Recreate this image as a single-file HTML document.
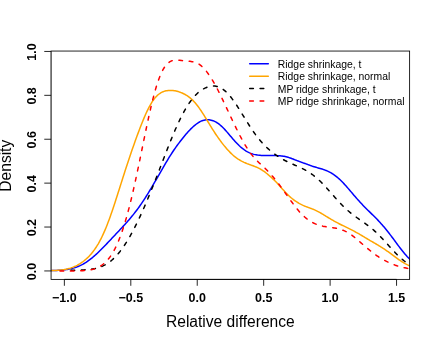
<!DOCTYPE html>
<html><head><meta charset="utf-8"><title>Density plot</title>
<style>html,body{margin:0;padding:0;background:#fff}svg{display:block;will-change:transform}text{font-family:"Liberation Sans",sans-serif}</style></head>
<body>
<svg width="436" height="343" viewBox="0 0 436 343">
<rect width="436" height="343" fill="#fff"/>
<defs><clipPath id="c"><rect x="51.07" y="51.05" width="358.55" height="228.33999999999997"/></clipPath></defs>
<g clip-path="url(#c)" fill="none" stroke-width="1.5" stroke-linejoin="round" stroke-linecap="round">
<path d="M50.1,270.67 L51.1,270.65 L52.1,270.62 L53.1,270.59 L54.1,270.56 L55.1,270.52 L56.1,270.48 L57.1,270.43 L58.1,270.37 L59.1,270.31 L60.1,270.24 L61.1,270.16 L62.1,270.07 L63.1,269.97 L64.1,269.85 L65.1,269.73 L66.1,269.59 L67.1,269.44 L68.1,269.27 L69.1,269.08 L70.1,268.88 L71.1,268.65 L72.1,268.41 L73.1,268.14 L74.1,267.86 L75.1,267.54 L76.1,267.21 L77.1,266.84 L78.1,266.45 L79.1,266.03 L80.1,265.59 L81.1,265.11 L82.1,264.61 L83.1,264.07 L84.1,263.50 L85.1,262.91 L86.1,262.28 L87.1,261.62 L88.1,260.93 L89.1,260.21 L90.1,259.46 L91.1,258.68 L92.1,257.88 L93.1,257.04 L94.1,256.18 L95.1,255.30 L96.1,254.40 L97.1,253.47 L98.1,252.52 L99.1,251.56 L100.1,250.57 L101.1,249.58 L102.1,248.57 L103.1,247.55 L104.1,246.52 L105.1,245.48 L106.1,244.43 L107.1,243.38 L108.1,242.33 L109.1,241.27 L110.1,240.21 L111.1,239.15 L112.1,238.09 L113.1,237.03 L114.1,235.97 L115.1,234.91 L116.1,233.85 L117.1,232.79 L118.1,231.73 L119.1,230.67 L120.1,229.60 L121.1,228.53 L122.1,227.46 L123.1,226.38 L124.1,225.29 L125.1,224.19 L126.1,223.08 L127.1,221.96 L128.1,220.82 L129.1,219.67 L130.1,218.50 L131.1,217.31 L132.1,216.10 L133.1,214.86 L134.1,213.61 L135.1,212.33 L136.1,211.02 L137.1,209.69 L138.1,208.33 L139.1,206.94 L140.1,205.53 L141.1,204.09 L142.1,202.62 L143.1,201.13 L144.1,199.61 L145.1,198.06 L146.1,196.49 L147.1,194.90 L148.1,193.28 L149.1,191.64 L150.1,189.99 L151.1,188.32 L152.1,186.63 L153.1,184.93 L154.1,183.21 L155.1,181.49 L156.1,179.76 L157.1,178.02 L158.1,176.28 L159.1,174.54 L160.1,172.80 L161.1,171.06 L162.1,169.32 L163.1,167.59 L164.1,165.87 L165.1,164.16 L166.1,162.46 L167.1,160.78 L168.1,159.12 L169.1,157.48 L170.1,155.87 L171.1,154.29 L172.1,152.75 L173.1,151.25 L174.1,149.77 L175.1,148.33 L176.1,146.92 L177.1,145.53 L178.1,144.17 L179.1,142.83 L180.1,141.51 L181.1,140.22 L182.1,138.94 L183.1,137.69 L184.1,136.45 L185.1,135.25 L186.1,134.06 L187.1,132.91 L188.1,131.79 L189.1,130.71 L190.1,129.66 L191.1,128.65 L192.1,127.69 L193.1,126.76 L194.1,125.88 L195.1,125.04 L196.1,124.25 L197.1,123.51 L198.1,122.84 L199.1,122.22 L200.1,121.67 L201.1,121.18 L202.1,120.77 L203.1,120.42 L204.1,120.15 L205.1,119.95 L206.1,119.82 L207.1,119.76 L208.1,119.76 L209.1,119.83 L210.1,119.97 L211.1,120.17 L212.1,120.43 L213.1,120.75 L214.1,121.15 L215.1,121.61 L216.1,122.15 L217.1,122.76 L218.1,123.45 L219.1,124.20 L220.1,125.02 L221.1,125.89 L222.1,126.82 L223.1,127.80 L224.1,128.82 L225.1,129.88 L226.1,130.98 L227.1,132.12 L228.1,133.28 L229.1,134.46 L230.1,135.65 L231.1,136.85 L232.1,138.04 L233.1,139.21 L234.1,140.36 L235.1,141.47 L236.1,142.55 L237.1,143.59 L238.1,144.59 L239.1,145.56 L240.1,146.48 L241.1,147.35 L242.1,148.18 L243.1,148.97 L244.1,149.70 L245.1,150.39 L246.1,151.03 L247.1,151.61 L248.1,152.15 L249.1,152.64 L250.1,153.08 L251.1,153.47 L252.1,153.82 L253.1,154.12 L254.1,154.39 L255.1,154.62 L256.1,154.81 L257.1,154.98 L258.1,155.13 L259.1,155.25 L260.1,155.35 L261.1,155.43 L262.1,155.50 L263.1,155.55 L264.1,155.58 L265.1,155.60 L266.1,155.60 L267.1,155.60 L268.1,155.60 L269.1,155.59 L270.1,155.58 L271.1,155.57 L272.1,155.57 L273.1,155.57 L274.1,155.58 L275.1,155.60 L276.1,155.62 L277.1,155.64 L278.1,155.68 L279.1,155.73 L280.1,155.80 L281.1,155.89 L282.1,156.00 L283.1,156.15 L284.1,156.32 L285.1,156.53 L286.1,156.77 L287.1,157.03 L288.1,157.33 L289.1,157.64 L290.1,157.97 L291.1,158.32 L292.1,158.68 L293.1,159.06 L294.1,159.44 L295.1,159.83 L296.1,160.22 L297.1,160.62 L298.1,161.01 L299.1,161.39 L300.1,161.76 L301.1,162.13 L302.1,162.49 L303.1,162.84 L304.1,163.20 L305.1,163.55 L306.1,163.92 L307.1,164.28 L308.1,164.66 L309.1,165.03 L310.1,165.39 L311.1,165.75 L312.1,166.10 L313.1,166.43 L314.1,166.74 L315.1,167.05 L316.1,167.34 L317.1,167.62 L318.1,167.91 L319.1,168.19 L320.1,168.48 L321.1,168.77 L322.1,169.08 L323.1,169.41 L324.1,169.75 L325.1,170.11 L326.1,170.50 L327.1,170.92 L328.1,171.37 L329.1,171.85 L330.1,172.37 L331.1,172.93 L332.1,173.52 L333.1,174.16 L334.1,174.84 L335.1,175.56 L336.1,176.32 L337.1,177.13 L338.1,177.98 L339.1,178.87 L340.1,179.80 L341.1,180.77 L342.1,181.78 L343.1,182.81 L344.1,183.88 L345.1,184.97 L346.1,186.09 L347.1,187.22 L348.1,188.38 L349.1,189.54 L350.1,190.71 L351.1,191.89 L352.1,193.07 L353.1,194.25 L354.1,195.42 L355.1,196.58 L356.1,197.74 L357.1,198.88 L358.1,200.01 L359.1,201.12 L360.1,202.22 L361.1,203.29 L362.1,204.36 L363.1,205.40 L364.1,206.44 L365.1,207.45 L366.1,208.46 L367.1,209.45 L368.1,210.43 L369.1,211.41 L370.1,212.39 L371.1,213.36 L372.1,214.34 L373.1,215.32 L374.1,216.31 L375.1,217.31 L376.1,218.32 L377.1,219.34 L378.1,220.39 L379.1,221.45 L380.1,222.54 L381.1,223.64 L382.1,224.77 L383.1,225.93 L384.1,227.10 L385.1,228.30 L386.1,229.52 L387.1,230.76 L388.1,232.02 L389.1,233.30 L390.1,234.60 L391.1,235.90 L392.1,237.23 L393.1,238.56 L394.1,239.90 L395.1,241.25 L396.1,242.61 L397.1,243.96 L398.1,245.32 L399.1,246.66 L400.1,247.98 L401.1,249.29 L402.1,250.56 L403.1,251.81 L404.1,253.02 L405.1,254.19 L406.1,255.32 L407.1,256.42 L408.1,257.47 L409.1,258.48 L410.1,259.45" stroke="#0000ff"/>
<path d="M50.1,270.51 L51.1,270.51 L52.1,270.50 L53.1,270.49 L54.1,270.46 L55.1,270.43 L56.1,270.39 L57.1,270.33 L58.1,270.27 L59.1,270.19 L60.1,270.10 L61.1,269.99 L62.1,269.87 L63.1,269.73 L64.1,269.58 L65.1,269.40 L66.1,269.21 L67.1,268.99 L68.1,268.75 L69.1,268.48 L70.1,268.19 L71.1,267.87 L72.1,267.52 L73.1,267.14 L74.1,266.73 L75.1,266.29 L76.1,265.82 L77.1,265.31 L78.1,264.77 L79.1,264.19 L80.1,263.58 L81.1,262.93 L82.1,262.24 L83.1,261.51 L84.1,260.73 L85.1,259.91 L86.1,259.05 L87.1,258.14 L88.1,257.17 L89.1,256.16 L90.1,255.08 L91.1,253.95 L92.1,252.76 L93.1,251.49 L94.1,250.16 L95.1,248.75 L96.1,247.26 L97.1,245.69 L98.1,244.04 L99.1,242.29 L100.1,240.46 L101.1,238.53 L102.1,236.50 L103.1,234.38 L104.1,232.16 L105.1,229.85 L106.1,227.44 L107.1,224.94 L108.1,222.35 L109.1,219.68 L110.1,216.92 L111.1,214.09 L112.1,211.20 L113.1,208.24 L114.1,205.24 L115.1,202.18 L116.1,199.09 L117.1,195.97 L118.1,192.83 L119.1,189.68 L120.1,186.52 L121.1,183.36 L122.1,180.20 L123.1,177.06 L124.1,173.93 L125.1,170.83 L126.1,167.74 L127.1,164.69 L128.1,161.66 L129.1,158.66 L130.1,155.69 L131.1,152.76 L132.1,149.85 L133.1,146.98 L134.1,144.14 L135.1,141.33 L136.1,138.56 L137.1,135.82 L138.1,133.12 L139.1,130.46 L140.1,127.85 L141.1,125.28 L142.1,122.76 L143.1,120.30 L144.1,117.90 L145.1,115.57 L146.1,113.32 L147.1,111.16 L148.1,109.09 L149.1,107.13 L150.1,105.28 L151.1,103.54 L152.1,101.93 L153.1,100.44 L154.1,99.07 L155.1,97.82 L156.1,96.69 L157.1,95.68 L158.1,94.78 L159.1,93.99 L160.1,93.29 L161.1,92.69 L162.1,92.17 L163.1,91.73 L164.1,91.37 L165.1,91.07 L166.1,90.83 L167.1,90.64 L168.1,90.51 L169.1,90.42 L170.1,90.38 L171.1,90.38 L172.1,90.42 L173.1,90.51 L174.1,90.64 L175.1,90.81 L176.1,91.01 L177.1,91.26 L178.1,91.54 L179.1,91.86 L180.1,92.21 L181.1,92.59 L182.1,93.01 L183.1,93.47 L184.1,93.96 L185.1,94.49 L186.1,95.07 L187.1,95.69 L188.1,96.37 L189.1,97.10 L190.1,97.88 L191.1,98.73 L192.1,99.64 L193.1,100.62 L194.1,101.67 L195.1,102.78 L196.1,103.97 L197.1,105.21 L198.1,106.52 L199.1,107.89 L200.1,109.31 L201.1,110.78 L202.1,112.30 L203.1,113.85 L204.1,115.44 L205.1,117.06 L206.1,118.70 L207.1,120.35 L208.1,122.01 L209.1,123.67 L210.1,125.32 L211.1,126.95 L212.1,128.57 L213.1,130.15 L214.1,131.71 L215.1,133.24 L216.1,134.74 L217.1,136.20 L218.1,137.64 L219.1,139.04 L220.1,140.42 L221.1,141.77 L222.1,143.09 L223.1,144.37 L224.1,145.62 L225.1,146.84 L226.1,148.02 L227.1,149.16 L228.1,150.27 L229.1,151.34 L230.1,152.37 L231.1,153.36 L232.1,154.31 L233.1,155.21 L234.1,156.06 L235.1,156.87 L236.1,157.63 L237.1,158.34 L238.1,159.01 L239.1,159.64 L240.1,160.24 L241.1,160.81 L242.1,161.35 L243.1,161.86 L244.1,162.35 L245.1,162.80 L246.1,163.23 L247.1,163.64 L248.1,164.02 L249.1,164.39 L250.1,164.74 L251.1,165.09 L252.1,165.44 L253.1,165.81 L254.1,166.18 L255.1,166.58 L256.1,166.99 L257.1,167.43 L258.1,167.91 L259.1,168.41 L260.1,168.95 L261.1,169.52 L262.1,170.13 L263.1,170.79 L264.1,171.48 L265.1,172.21 L266.1,172.98 L267.1,173.78 L268.1,174.61 L269.1,175.47 L270.1,176.35 L271.1,177.25 L272.1,178.17 L273.1,179.11 L274.1,180.07 L275.1,181.05 L276.1,182.06 L277.1,183.10 L278.1,184.17 L279.1,185.26 L280.1,186.38 L281.1,187.50 L282.1,188.63 L283.1,189.75 L284.1,190.86 L285.1,191.94 L286.1,193.00 L287.1,194.02 L288.1,195.00 L289.1,195.94 L290.1,196.85 L291.1,197.71 L292.1,198.53 L293.1,199.31 L294.1,200.06 L295.1,200.78 L296.1,201.47 L297.1,202.12 L298.1,202.74 L299.1,203.33 L300.1,203.89 L301.1,204.42 L302.1,204.92 L303.1,205.39 L304.1,205.83 L305.1,206.25 L306.1,206.64 L307.1,207.01 L308.1,207.37 L309.1,207.73 L310.1,208.09 L311.1,208.46 L312.1,208.85 L313.1,209.26 L314.1,209.68 L315.1,210.13 L316.1,210.60 L317.1,211.10 L318.1,211.61 L319.1,212.15 L320.1,212.70 L321.1,213.27 L322.1,213.85 L323.1,214.44 L324.1,215.05 L325.1,215.66 L326.1,216.27 L327.1,216.88 L328.1,217.50 L329.1,218.11 L330.1,218.71 L331.1,219.31 L332.1,219.89 L333.1,220.47 L334.1,221.04 L335.1,221.59 L336.1,222.14 L337.1,222.67 L338.1,223.20 L339.1,223.71 L340.1,224.22 L341.1,224.72 L342.1,225.21 L343.1,225.70 L344.1,226.19 L345.1,226.67 L346.1,227.16 L347.1,227.65 L348.1,228.14 L349.1,228.63 L350.1,229.13 L351.1,229.64 L352.1,230.16 L353.1,230.68 L354.1,231.21 L355.1,231.74 L356.1,232.29 L357.1,232.84 L358.1,233.40 L359.1,233.97 L360.1,234.55 L361.1,235.14 L362.1,235.73 L363.1,236.32 L364.1,236.93 L365.1,237.53 L366.1,238.14 L367.1,238.74 L368.1,239.34 L369.1,239.94 L370.1,240.53 L371.1,241.11 L372.1,241.68 L373.1,242.25 L374.1,242.83 L375.1,243.41 L376.1,243.99 L377.1,244.58 L378.1,245.18 L379.1,245.80 L380.1,246.41 L381.1,247.04 L382.1,247.68 L383.1,248.32 L384.1,248.98 L385.1,249.64 L386.1,250.32 L387.1,251.01 L388.1,251.71 L389.1,252.43 L390.1,253.16 L391.1,253.90 L392.1,254.65 L393.1,255.41 L394.1,256.17 L395.1,256.92 L396.1,257.66 L397.1,258.39 L398.1,259.10 L399.1,259.80 L400.1,260.48 L401.1,261.15 L402.1,261.79 L403.1,262.41 L404.1,263.02 L405.1,263.59 L406.1,264.13 L407.1,264.63 L408.1,265.09 L409.1,265.51 L410.1,265.89" stroke="#ffa500"/>
<path d="M71.0,270.33 L72.0,270.32 L73.0,270.31 L74.0,270.29 L75.0,270.27 L76.0,270.25 L77.0,270.22 L78.0,270.19 L79.0,270.15 L80.0,270.11 L81.0,270.07 L82.0,270.02 L83.0,269.96 L84.0,269.89 L85.0,269.82 L86.0,269.73 L87.0,269.64 L88.0,269.54 L89.0,269.42 L90.0,269.30 L91.0,269.17 L92.0,269.03 L93.0,268.88 L94.0,268.71 L95.0,268.53 L96.0,268.32 L97.0,268.08 L98.0,267.82 L99.0,267.52 L100.0,267.18 L101.0,266.81 L102.0,266.39 L103.0,265.94 L104.0,265.45 L105.0,264.92 L106.0,264.35 L107.0,263.74 L108.0,263.09 L109.0,262.39 L110.0,261.65 L111.0,260.86 L112.0,260.02 L113.0,259.13 L114.0,258.19 L115.0,257.21 L116.0,256.17 L117.0,255.08 L118.0,253.94 L119.0,252.74 L120.0,251.50 L121.0,250.20 L122.0,248.85 L123.0,247.45 L124.0,246.00 L125.0,244.50 L126.0,242.95 L127.0,241.35 L128.0,239.70 L129.0,238.01 L130.0,236.27 L131.0,234.48 L132.0,232.65 L133.0,230.78 L134.0,228.87 L135.0,226.91 L136.0,224.92 L137.0,222.89 L138.0,220.82 L139.0,218.71 L140.0,216.57 L141.0,214.40 L142.0,212.19 L143.0,209.95 L144.0,207.68 L145.0,205.38 L146.0,203.05 L147.0,200.69 L148.0,198.31 L149.0,195.90 L150.0,193.46 L151.0,191.01 L152.0,188.53 L153.0,186.02 L154.0,183.50 L155.0,180.96 L156.0,178.41 L157.0,175.84 L158.0,173.26 L159.0,170.67 L160.0,168.07 L161.0,165.47 L162.0,162.87 L163.0,160.27 L164.0,157.67 L165.0,155.08 L166.0,152.50 L167.0,149.93 L168.0,147.38 L169.0,144.85 L170.0,142.35 L171.0,139.87 L172.0,137.43 L173.0,135.02 L174.0,132.65 L175.0,130.32 L176.0,128.04 L177.0,125.80 L178.0,123.61 L179.0,121.48 L180.0,119.40 L181.0,117.38 L182.0,115.42 L183.0,113.52 L184.0,111.68 L185.0,109.91 L186.0,108.20 L187.0,106.55 L188.0,104.97 L189.0,103.46 L190.0,102.01 L191.0,100.63 L192.0,99.31 L193.0,98.06 L194.0,96.87 L195.0,95.74 L196.0,94.68 L197.0,93.68 L198.0,92.75 L199.0,91.89 L200.0,91.09 L201.0,90.37 L202.0,89.71 L203.0,89.12 L204.0,88.58 L205.0,88.11 L206.0,87.68 L207.0,87.30 L208.0,86.97 L209.0,86.68 L210.0,86.43 L211.0,86.25 L212.0,86.11 L213.0,86.04 L214.0,86.04 L215.0,86.10 L216.0,86.24 L217.0,86.44 L218.0,86.73 L219.0,87.09 L220.0,87.52 L221.0,88.04 L222.0,88.64 L223.0,89.31 L224.0,90.06 L225.0,90.89 L226.0,91.79 L227.0,92.76 L228.0,93.80 L229.0,94.91 L230.0,96.08 L231.0,97.31 L232.0,98.60 L233.0,99.94 L234.0,101.34 L235.0,102.78 L236.0,104.26 L237.0,105.77 L238.0,107.32 L239.0,108.90 L240.0,110.49 L241.0,112.11 L242.0,113.73 L243.0,115.36 L244.0,116.99 L245.0,118.62 L246.0,120.24 L247.0,121.85 L248.0,123.44 L249.0,125.01 L250.0,126.56 L251.0,128.09 L252.0,129.58 L253.0,131.05 L254.0,132.48 L255.0,133.87 L256.0,135.23 L257.0,136.55 L258.0,137.84 L259.0,139.09 L260.0,140.29 L261.0,141.47 L262.0,142.60 L263.0,143.69 L264.0,144.76 L265.0,145.78 L266.0,146.77 L267.0,147.73 L268.0,148.66 L269.0,149.55 L270.0,150.42 L271.0,151.25 L272.0,152.06 L273.0,152.85 L274.0,153.60 L275.0,154.34 L276.0,155.05 L277.0,155.73 L278.0,156.40 L279.0,157.04 L280.0,157.67 L281.0,158.27 L282.0,158.85 L283.0,159.42 L284.0,159.97 L285.0,160.51 L286.0,161.02 L287.0,161.53 L288.0,162.02 L289.0,162.50 L290.0,162.96 L291.0,163.42 L292.0,163.87 L293.0,164.31 L294.0,164.75 L295.0,165.19 L296.0,165.63 L297.0,166.06 L298.0,166.51 L299.0,166.95 L300.0,167.41 L301.0,167.87 L302.0,168.35 L303.0,168.84 L304.0,169.36 L305.0,169.88 L306.0,170.44 L307.0,171.01 L308.0,171.61 L309.0,172.23 L310.0,172.88 L311.0,173.57 L312.0,174.28 L313.0,175.02 L314.0,175.79 L315.0,176.60 L316.0,177.43 L317.0,178.30 L318.0,179.19 L319.0,180.12 L320.0,181.07 L321.0,182.05 L322.0,183.06 L323.0,184.09 L324.0,185.14 L325.0,186.21 L326.0,187.30 L327.0,188.40 L328.0,189.52 L329.0,190.64 L330.0,191.78 L331.0,192.91 L332.0,194.05 L333.0,195.19 L334.0,196.33 L335.0,197.46 L336.0,198.58 L337.0,199.69 L338.0,200.79 L339.0,201.87 L340.0,202.93 L341.0,203.98 L342.0,205.01 L343.0,206.01 L344.0,206.99 L345.0,207.95 L346.0,208.89 L347.0,209.80 L348.0,210.69 L349.0,211.55 L350.0,212.40 L351.0,213.21 L352.0,214.01 L353.0,214.79 L354.0,215.55 L355.0,216.29 L356.0,217.02 L357.0,217.74 L358.0,218.45 L359.0,219.15 L360.0,219.84 L361.0,220.53 L362.0,221.22 L363.0,221.92 L364.0,222.62 L365.0,223.32 L366.0,224.04 L367.0,224.78 L368.0,225.52 L369.0,226.29 L370.0,227.07 L371.0,227.88 L372.0,228.70 L373.0,229.55 L374.0,230.43 L375.0,231.32 L376.0,232.25 L377.0,233.19 L378.0,234.16 L379.0,235.16 L380.0,236.17 L381.0,237.21 L382.0,238.26 L383.0,239.33 L384.0,240.42 L385.0,241.52 L386.0,242.62 L387.0,243.73 L388.0,244.85 L389.0,245.96 L390.0,247.08 L391.0,248.18 L392.0,249.28 L393.0,250.36 L394.0,251.43 L395.0,252.48 L396.0,253.52 L397.0,254.52 L398.0,255.50 L399.0,256.46 L400.0,257.38 L401.0,258.27 L402.0,259.13 L403.0,259.96 L404.0,260.75 L405.0,261.50 L406.0,262.22 L407.0,262.90 L408.0,263.54 L409.0,264.15 L410.0,264.72" stroke="#000" stroke-dasharray="3.71 6.71" stroke-dashoffset="0"/>
<path d="M60.0,271.10 L61.0,271.10 L62.0,271.09 L63.0,271.08 L64.0,271.07 L65.0,271.06 L66.0,271.05 L67.0,271.04 L68.0,271.03 L69.0,271.01 L70.0,271.00 L71.0,270.99 L72.0,270.97 L73.0,270.96 L74.0,270.94 L75.0,270.92 L76.0,270.90 L77.0,270.88 L78.0,270.85 L79.0,270.82 L80.0,270.79 L81.0,270.74 L82.0,270.70 L83.0,270.64 L84.0,270.58 L85.0,270.50 L86.0,270.42 L87.0,270.31 L88.0,270.20 L89.0,270.06 L90.0,269.90 L91.0,269.71 L92.0,269.49 L93.0,269.24 L94.0,268.95 L95.0,268.62 L96.0,268.24 L97.0,267.82 L98.0,267.36 L99.0,266.85 L100.0,266.28 L101.0,265.67 L102.0,265.00 L103.0,264.27 L104.0,263.47 L105.0,262.59 L106.0,261.64 L107.0,260.60 L108.0,259.48 L109.0,258.26 L110.0,256.93 L111.0,255.51 L112.0,253.97 L113.0,252.32 L114.0,250.55 L115.0,248.66 L116.0,246.65 L117.0,244.50 L118.0,242.23 L119.0,239.82 L120.0,237.28 L121.0,234.59 L122.0,231.77 L123.0,228.81 L124.0,225.70 L125.0,222.45 L126.0,219.07 L127.0,215.54 L128.0,211.88 L129.0,208.08 L130.0,204.15 L131.0,200.09 L132.0,195.91 L133.0,191.62 L134.0,187.21 L135.0,182.71 L136.0,178.11 L137.0,173.43 L138.0,168.69 L139.0,163.88 L140.0,159.02 L141.0,154.14 L142.0,149.23 L143.0,144.32 L144.0,139.43 L145.0,134.56 L146.0,129.74 L147.0,124.98 L148.0,120.30 L149.0,115.71 L150.0,111.24 L151.0,106.90 L152.0,102.70 L153.0,98.67 L154.0,94.81 L155.0,91.14 L156.0,87.69 L157.0,84.45 L158.0,81.43 L159.0,78.65 L160.0,76.09 L161.0,73.75 L162.0,71.62 L163.0,69.71 L164.0,68.00 L165.0,66.50 L166.0,65.20 L167.0,64.08 L168.0,63.13 L169.0,62.34 L170.0,61.68 L171.0,61.15 L172.0,60.73 L173.0,60.42 L174.0,60.21 L175.0,60.08 L176.0,60.03 L177.0,60.04 L178.0,60.10 L179.0,60.19 L180.0,60.31 L181.0,60.43 L182.0,60.56 L183.0,60.68 L184.0,60.79 L185.0,60.89 L186.0,60.97 L187.0,61.06 L188.0,61.14 L189.0,61.24 L190.0,61.35 L191.0,61.49 L192.0,61.65 L193.0,61.84 L194.0,62.08 L195.0,62.36 L196.0,62.71 L197.0,63.12 L198.0,63.61 L199.0,64.19 L200.0,64.87 L201.0,65.63 L202.0,66.50 L203.0,67.45 L204.0,68.49 L205.0,69.62 L206.0,70.82 L207.0,72.10 L208.0,73.45 L209.0,74.87 L210.0,76.35 L211.0,77.89 L212.0,79.49 L213.0,81.15 L214.0,82.86 L215.0,84.63 L216.0,86.45 L217.0,88.33 L218.0,90.25 L219.0,92.22 L220.0,94.23 L221.0,96.27 L222.0,98.34 L223.0,100.42 L224.0,102.53 L225.0,104.64 L226.0,106.76 L227.0,108.89 L228.0,111.02 L229.0,113.14 L230.0,115.27 L231.0,117.39 L232.0,119.50 L233.0,121.60 L234.0,123.68 L235.0,125.75 L236.0,127.80 L237.0,129.83 L238.0,131.83 L239.0,133.80 L240.0,135.73 L241.0,137.63 L242.0,139.49 L243.0,141.30 L244.0,143.06 L245.0,144.77 L246.0,146.43 L247.0,148.03 L248.0,149.57 L249.0,151.04 L250.0,152.46 L251.0,153.82 L252.0,155.11 L253.0,156.34 L254.0,157.52 L255.0,158.64 L256.0,159.71 L257.0,160.74 L258.0,161.73 L259.0,162.68 L260.0,163.61 L261.0,164.54 L262.0,165.46 L263.0,166.39 L264.0,167.33 L265.0,168.30 L266.0,169.28 L267.0,170.29 L268.0,171.32 L269.0,172.38 L270.0,173.45 L271.0,174.54 L272.0,175.66 L273.0,176.80 L274.0,177.97 L275.0,179.16 L276.0,180.39 L277.0,181.66 L278.0,182.96 L279.0,184.28 L280.0,185.64 L281.0,187.01 L282.0,188.40 L283.0,189.80 L284.0,191.20 L285.0,192.61 L286.0,194.01 L287.0,195.41 L288.0,196.81 L289.0,198.19 L290.0,199.58 L291.0,200.95 L292.0,202.31 L293.0,203.67 L294.0,205.01 L295.0,206.32 L296.0,207.61 L297.0,208.87 L298.0,210.09 L299.0,211.26 L300.0,212.39 L301.0,213.47 L302.0,214.50 L303.0,215.48 L304.0,216.41 L305.0,217.30 L306.0,218.14 L307.0,218.93 L308.0,219.67 L309.0,220.37 L310.0,221.03 L311.0,221.64 L312.0,222.21 L313.0,222.74 L314.0,223.24 L315.0,223.69 L316.0,224.11 L317.0,224.50 L318.0,224.86 L319.0,225.18 L320.0,225.48 L321.0,225.75 L322.0,225.99 L323.0,226.22 L324.0,226.42 L325.0,226.60 L326.0,226.77 L327.0,226.93 L328.0,227.07 L329.0,227.21 L330.0,227.35 L331.0,227.48 L332.0,227.62 L333.0,227.77 L334.0,227.92 L335.0,228.09 L336.0,228.27 L337.0,228.47 L338.0,228.69 L339.0,228.94 L340.0,229.22 L341.0,229.53 L342.0,229.87 L343.0,230.25 L344.0,230.66 L345.0,231.11 L346.0,231.60 L347.0,232.13 L348.0,232.70 L349.0,233.30 L350.0,233.95 L351.0,234.63 L352.0,235.34 L353.0,236.09 L354.0,236.87 L355.0,237.68 L356.0,238.51 L357.0,239.36 L358.0,240.23 L359.0,241.10 L360.0,241.98 L361.0,242.86 L362.0,243.74 L363.0,244.61 L364.0,245.47 L365.0,246.33 L366.0,247.18 L367.0,248.02 L368.0,248.86 L369.0,249.69 L370.0,250.51 L371.0,251.32 L372.0,252.12 L373.0,252.90 L374.0,253.66 L375.0,254.40 L376.0,255.12 L377.0,255.82 L378.0,256.49 L379.0,257.14 L380.0,257.77 L381.0,258.38 L382.0,258.96 L383.0,259.52 L384.0,260.07 L385.0,260.59 L386.0,261.11 L387.0,261.61 L388.0,262.09 L389.0,262.57 L390.0,263.04 L391.0,263.49 L392.0,263.93 L393.0,264.35 L394.0,264.75 L395.0,265.12 L396.0,265.47 L397.0,265.80 L398.0,266.10 L399.0,266.39 L400.0,266.67 L401.0,266.92 L402.0,267.17 L403.0,267.41 L404.0,267.63 L405.0,267.85 L406.0,268.05 L407.0,268.25 L408.0,268.44 L409.0,268.61 L410.0,268.78" stroke="#ff0000" stroke-dasharray="3.69 6.69" stroke-dashoffset="0"/>
</g>
<g stroke="#000" stroke-width="0.85" fill="none" stroke-linecap="butt">
<rect x="51.07" y="51.05" width="358.55" height="228.33999999999997"/>
<line x1="64.36" y1="279.39" x2="64.36" y2="285.78999999999996"/>
<line x1="130.80" y1="279.39" x2="130.80" y2="285.78999999999996"/>
<line x1="197.24" y1="279.39" x2="197.24" y2="285.78999999999996"/>
<line x1="263.68" y1="279.39" x2="263.68" y2="285.78999999999996"/>
<line x1="330.12" y1="279.39" x2="330.12" y2="285.78999999999996"/>
<line x1="396.56" y1="279.39" x2="396.56" y2="285.78999999999996"/>
<line x1="64.36" y1="279.39" x2="396.56" y2="279.39"/>
<line x1="51.07" y1="270.94" x2="51.07" y2="51.44" stroke-opacity="0.35"/>
<line x1="51.07" y1="270.94" x2="44.27" y2="270.94"/>
<line x1="51.07" y1="227.04" x2="44.27" y2="227.04"/>
<line x1="51.07" y1="183.14" x2="44.27" y2="183.14"/>
<line x1="51.07" y1="139.24" x2="44.27" y2="139.24"/>
<line x1="51.07" y1="95.34" x2="44.27" y2="95.34"/>
<line x1="51.07" y1="51.44" x2="44.27" y2="51.44"/>
</g>
<g font-size="12.46" font-weight="bold" text-anchor="middle" fill="#000">
<text x="64.36" y="301.9">−1.0</text>
<text x="130.80" y="301.9">−0.5</text>
<text x="197.24" y="301.9">0.0</text>
<text x="263.68" y="301.9">0.5</text>
<text x="330.12" y="301.9">1.0</text>
<text x="396.56" y="301.9">1.5</text>
<text transform="translate(36.1,271.54) rotate(-90)">0.0</text>
<text transform="translate(36.1,227.64) rotate(-90)">0.2</text>
<text transform="translate(36.1,183.74) rotate(-90)">0.4</text>
<text transform="translate(36.1,139.84) rotate(-90)">0.6</text>
<text transform="translate(36.1,95.94) rotate(-90)">0.8</text>
<text transform="translate(36.1,52.04) rotate(-90)">1.0</text>
</g>
<text x="230.34" y="326.8" font-size="15.57" text-anchor="middle">Relative difference</text>
<text transform="translate(11.2,165.72) rotate(-90)" font-size="15.57" text-anchor="middle">Density</text>
<line x1="249.7" y1="63.70" x2="268.3" y2="63.70" stroke="#0000ff" stroke-width="1.5" stroke-linecap="round"/>
<text x="277.8" y="67.90" font-size="10.38">Ridge shrinkage, t</text>
<line x1="249.7" y1="76.15" x2="268.3" y2="76.15" stroke="#ffa500" stroke-width="1.5" stroke-linecap="round"/>
<text x="277.8" y="80.35" font-size="10.38">Ridge shrinkage, normal</text>
<line x1="249.7" y1="88.60" x2="268.3" y2="88.60" stroke="#000" stroke-width="1.5" stroke-linecap="round" stroke-dasharray="3.69 6.69"/>
<text x="277.8" y="92.80" font-size="10.38">MP ridge shrinkage, t</text>
<line x1="249.7" y1="101.05" x2="268.3" y2="101.05" stroke="#ff0000" stroke-width="1.5" stroke-linecap="round" stroke-dasharray="3.69 6.69"/>
<text x="277.8" y="105.25" font-size="10.38">MP ridge shrinkage, normal</text>
</svg>
</body></html>
